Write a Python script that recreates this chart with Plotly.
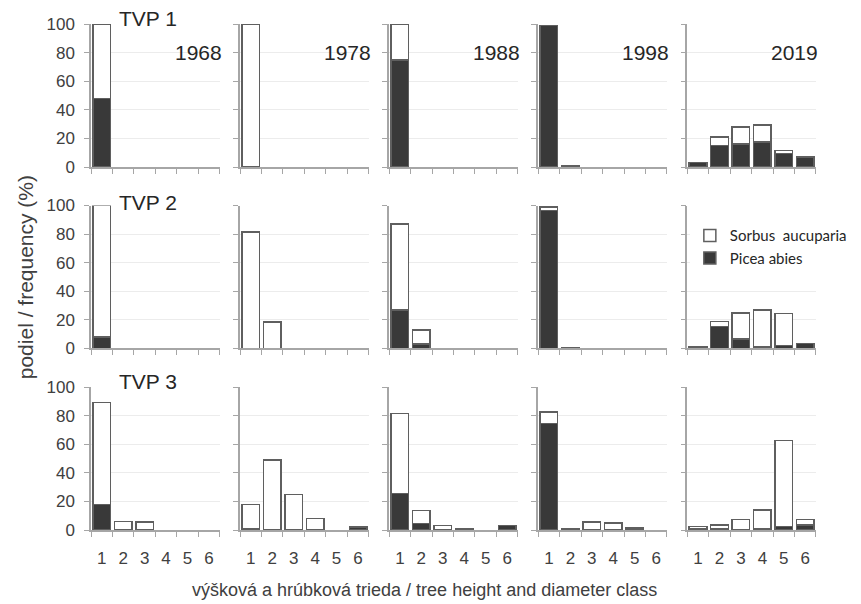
import plotly.graph_objects as go
from plotly.subplots import make_subplots

classes = ["1", "2", "3", "4", "5", "6"]
years = ["1968", "1978", "1988", "1998", "2019"]
plots = ["TVP 1", "TVP 2", "TVP 3"]

# Picea abies (dark) and Sorbus aucuparia (white) frequency (%) per class
picea_tvp1 = {
    "1968": [48, 0, 0, 0, 0, 0],
    "1978": [0, 0, 0, 0, 0, 0],
    "1988": [75, 0, 0, 0, 0, 0],
    "1998": [99, 1, 0, 0, 0, 0],
    "2019": [3, 15, 16, 17.5, 9.5, 7],
}
sorbus_tvp1 = {
    "1968": [52, 0, 0, 0, 0, 0],
    "1978": [100, 0, 0, 0, 0, 0],
    "1988": [25, 0, 0, 0, 0, 0],
    "1998": [0, 0, 0, 0, 0, 0],
    "2019": [0, 6, 12, 12, 2, 0],
}
picea_tvp2 = {
    "1968": [8, 0, 0, 0, 0, 0],
    "1978": [0, 0, 0, 0, 0, 0],
    "1988": [27, 3, 0, 0, 0, 0],
    "1998": [96.5, 0.5, 0, 0, 0, 0],
    "2019": [1, 15.5, 6.5, 1, 2, 3.5],
}
sorbus_tvp2 = {
    "1968": [92, 0, 0, 0, 0, 0],
    "1978": [81.5, 18.5, 0, 0, 0, 0],
    "1988": [60, 10, 0, 0, 0, 0],
    "1998": [2.5, 0, 0, 0, 0, 0],
    "2019": [0, 3.5, 18.5, 26, 22.5, 0],
}
picea_tvp3 = {
    "1968": [18, 0, 0, 0, 0, 0],
    "1978": [1, 0, 0, 0, 0, 2],
    "1988": [25.5, 4.5, 0, 0, 0, 3],
    "1998": [74.5, 1, 0, 0, 0, 0],
    "2019": [1, 1, 0.5, 1, 2.5, 3.5],
}
sorbus_tvp3 = {
    "1968": [71, 6, 5.5, 0, 0, 0],
    "1978": [17, 49, 25, 8, 0, 0],
    "1988": [56, 9, 3, 1, 0, 0],
    "1998": [8, 0, 5.5, 5, 1.5, 0],
    "2019": [1.5, 2.5, 7, 13, 60, 4],
}

picea = [picea_tvp1, picea_tvp2, picea_tvp3]
sorbus = [sorbus_tvp1, sorbus_tvp2, sorbus_tvp3]

DARK = "#393939"
EDGE = "#5f5f5f"
AXIS = "#a6a6a6"
TXT = "#404040"
FONT = "Liberation Sans"


def nz(vals):
    return [v if v else None for v in vals]


fig = make_subplots(rows=3, cols=5, horizontal_spacing=0.0281, vertical_spacing=0.0761)

for r in range(3):
    for c, yr in enumerate(years):
        show = (r == 1 and c == 4)
        fig.add_trace(go.Bar(
            x=classes, y=nz(picea[r][yr]), name="Picea abies",
            marker=dict(color=DARK, line=dict(color=EDGE, width=1.5)),
            legendgroup="picea", showlegend=show, hoverinfo="y"),
            row=r + 1, col=c + 1)
        fig.add_trace(go.Bar(
            x=classes, y=nz(sorbus[r][yr]), name="Sorbus\u00a0 aucuparia",
            marker=dict(color="white", line=dict(color=EDGE, width=1.5)),
            legendgroup="sorbus", showlegend=show, hoverinfo="y"),
            row=r + 1, col=c + 1)

fig.update_xaxes(type="category", categoryorder="array", categoryarray=classes,
                 tickson="boundaries", ticks="outside", ticklen=5, tickcolor=AXIS,
                 tickwidth=1.2, showline=True, linecolor=AXIS, linewidth=1.5,
                 showgrid=False, showticklabels=False, zeroline=False,
                 tickfont=dict(family=FONT, size=17, color=TXT), ticklabelstandoff=12)
fig.update_xaxes(showticklabels=True, row=3)
fig.update_yaxes(range=[0, 100], dtick=20, tick0=0, ticks="outside", ticklen=5,
                 tickcolor=AXIS, tickwidth=1.2, showline=True, linecolor=AXIS,
                 linewidth=1.5, showgrid=True, gridcolor="#ececec", gridwidth=1,
                 zeroline=False, showticklabels=False,
                 tickfont=dict(family=FONT, size=17, color=TXT), ticklabelstandoff=6)
fig.update_yaxes(showticklabels=True, col=1)

# Year labels in each panel (top row) and plot labels
for c, yr in enumerate(years):
    fig.add_annotation(text=yr, xref=f"x{c + 1 if c else ''} domain", yref=f"y{c + 1 if c else ''} domain",
                       x=0.985, y=0.80, xanchor="right", yanchor="middle", showarrow=False,
                       xshift=6, font=dict(family=FONT, size=21, color="#262626"))

tvp_y = [1.0099, 0.647, 0.2925]
for r, name in enumerate(plots):
    fig.add_annotation(text=name, xref="paper", yref="paper", x=0.079, y=tvp_y[r],
                       xanchor="center", yanchor="middle", showarrow=False,
                       font=dict(family=FONT, size=21, color="#262626"))

fig.add_annotation(text="podiel / frequency (%)", xref="paper", yref="paper",
                   x=-0.0907, y=0.5, textangle=-90, showarrow=False,
                   xanchor="center", yanchor="middle",
                   font=dict(family=FONT, size=21, color=TXT))
fig.add_annotation(text="výšková a hrúbková trieda / tree height and diameter class",
                   xref="paper", yref="paper", x=0.46, y=-0.1186, showarrow=False,
                   xanchor="center", yanchor="middle",
                   font=dict(family=FONT, size=18, color=TXT))

fig.update_layout(
    width=861, height=604,
    margin=dict(l=91, r=9, t=24, b=74),
    barmode="stack", bargap=0.18,
    plot_bgcolor="white", paper_bgcolor="white",
    showlegend=True,
    legend=dict(x=0.826, y=0.614, xanchor="left", yanchor="top",
                traceorder="reversed", bgcolor="white", borderwidth=0,
                itemwidth=30, tracegroupgap=0, itemclick=False,
                font=dict(family="Lato", size=15, color="#262626")),
)

fig.write_html("out.html")
